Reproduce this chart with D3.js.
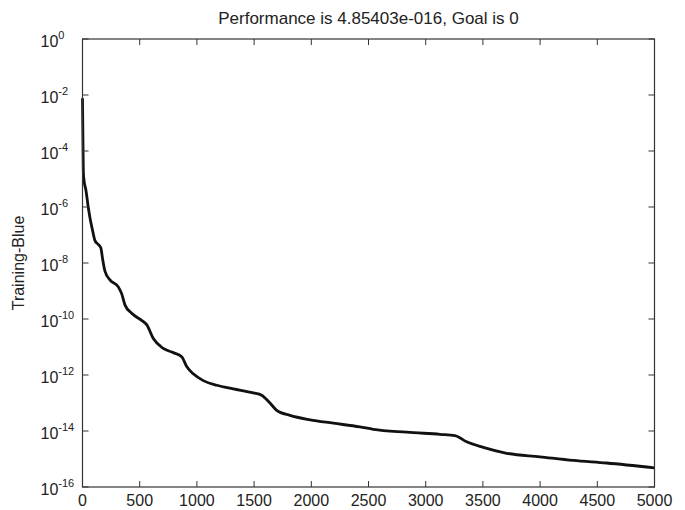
<!DOCTYPE html>
<html>
<head>
<meta charset="utf-8">
<script src="https://cdn.jsdelivr.net/npm/d3@7"></script>
<style>
  body { margin: 0; background: #fff; }
  text { font-family: "Liberation Sans", Arial, sans-serif; fill: #222; }
</style>
</head>
<body>
<svg width="685" height="510"></svg>
<script>
var epochs = [0, 5, 8, 15, 30, 50, 66, 86, 109, 140, 160, 177, 197, 240, 313, 343, 371, 430,
  517, 561, 619, 706, 794, 867, 911, 968, 1056, 1173, 1318, 1493, 1566, 1639, 1697, 1814,
  1989, 2192, 2425, 2542, 2833, 3125, 3256, 3358, 3503, 3708, 3998, 4290, 4581, 5000];
var perf = [7.6e-3, 1.0e-4, 1.6e-5, 7.9e-6, 4.0e-6, 1.0e-6, 4.0e-7, 1.6e-7, 6.3e-8, 4.5e-8,
  3.5e-8, 1.3e-8, 5.0e-9, 2.5e-9, 1.4e-9, 7.9e-10, 3.2e-10, 1.6e-10, 8.9e-11, 6.3e-11,
  2.0e-11, 8.9e-12, 6.3e-12, 4.5e-12, 2.0e-12, 1.1e-12, 6.3e-13, 4.3e-13, 3.2e-13, 2.3e-13,
  1.9e-13, 1.0e-13, 5.5e-14, 3.6e-14, 2.5e-14, 1.9e-14, 1.4e-14, 1.15e-14, 9.1e-15, 7.6e-15,
  6.9e-15, 4.1e-15, 2.6e-15, 1.6e-15, 1.2e-15, 8.9e-16, 7.2e-16, 4.85403e-16];
var xTicks = [0, 500, 1000, 1500, 2000, 2500, 3000, 3500, 4000, 4500, 5000];
var yTickExps = [0, -2, -4, -6, -8, -10, -12, -14, -16];

var svg = d3.select("svg"),
  margin = {top: 39, right: 30.5, bottom: 23, left: 82.5},
  width = +svg.attr("width") - margin.left - margin.right,
  height = +svg.attr("height") - margin.top - margin.bottom;

var x = d3.scaleLinear().domain([0, 5000]).range([0, width]);
var y = d3.scaleLog().domain([1e-16, 1]).range([height, 0]);

var g = svg.append("g")
  .attr("transform", "translate(" + margin.left + "," + margin.top + ")");

var data = epochs.map(function(e, i) { return {epoch: e, value: perf[i]}; });

// the curve
g.append("path")
  .datum(data)
  .attr("fill", "none")
  .attr("stroke", "#111")
  .attr("stroke-width", 2.8)
  .attr("stroke-linejoin", "round")
  .attr("d", d3.line()
    .curve(d3.curveMonotoneX)
    .x(function(d) { return x(d.epoch); })
    .y(function(d) { return y(d.value); }));

// box
g.append("rect")
  .attr("width", width)
  .attr("height", height)
  .attr("fill", "none")
  .attr("stroke", "#333")
  .attr("stroke-width", 1.2);

// ticks inside on all four sides
var tl = 6;
xTicks.forEach(function(t) {
  g.append("line").attr("x1", x(t)).attr("x2", x(t)).attr("y1", height).attr("y2", height - tl)
    .attr("stroke", "#333");
  g.append("line").attr("x1", x(t)).attr("x2", x(t)).attr("y1", 0).attr("y2", tl)
    .attr("stroke", "#333");
  g.append("text")
    .attr("x", x(t))
    .attr("y", height + 19)
    .attr("text-anchor", "middle")
    .attr("font-size", 16)
    .text(t);
});

yTickExps.forEach(function(e) {
  var yy = y(Math.pow(10, e));
  g.append("line").attr("x1", 0).attr("x2", tl).attr("y1", yy).attr("y2", yy).attr("stroke", "#333");
  g.append("line").attr("x1", width).attr("x2", width - tl).attr("y1", yy).attr("y2", yy).attr("stroke", "#333");
  var lab = g.append("text")
    .attr("x", -42)
    .attr("y", yy + 8)
    .attr("font-size", 16);
  lab.append("tspan").text("10");
  lab.append("tspan")
    .attr("dy", -8)
    .attr("font-size", 11)
    .text(e);
});

// title
svg.append("text")
  .attr("x", margin.left + width / 2)
  .attr("y", 24)
  .attr("text-anchor", "middle")
  .attr("font-size", 17)
  .text("Performance is 4.85403e-016, Goal is 0");

// y label
svg.append("text")
  .attr("transform", "translate(24," + (margin.top + height / 2) + ") rotate(-90)")
  .attr("text-anchor", "middle")
  .attr("font-size", 16)
  .text("Training-Blue");
</script>
</body>
</html>
